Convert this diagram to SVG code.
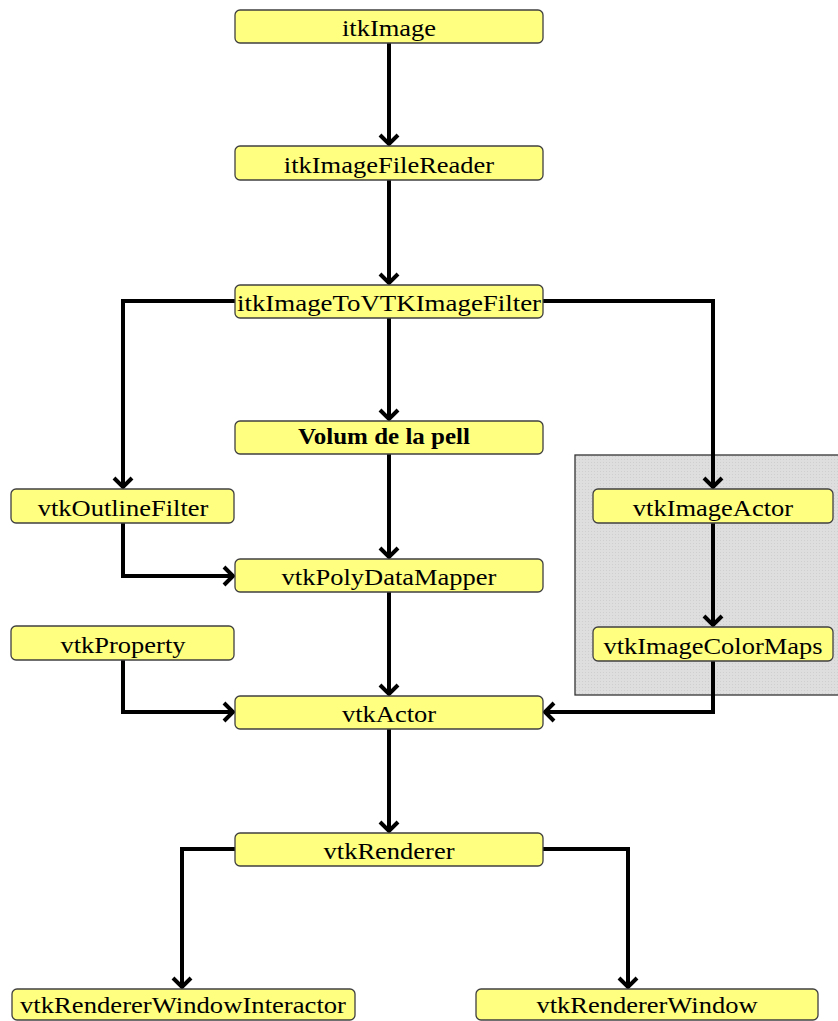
<svg xmlns="http://www.w3.org/2000/svg" width="838" height="1021" viewBox="0 0 838 1021">
  <defs>
    <style>
      .box { fill: #ffff80; stroke: #404040; stroke-width: 1.3; }
      .lbl { font-family: "Liberation Serif", "Times New Roman", serif; font-size: 26.5px; fill: #000; text-anchor: middle; }
      .bold { font-weight: bold; font-size: 23px; }
      .wire { fill: none; stroke: #000; stroke-width: 4; stroke-linejoin: miter; }
      .group { stroke: #333; stroke-width: 1.3; }
    </style>
    <pattern id="dots" width="3" height="3" patternUnits="userSpaceOnUse">
      <rect width="3" height="3" fill="#dedede"/>
      <rect width="1" height="1" fill="#cfcfcf"/>
    </pattern>
    <marker id="arrow" viewBox="-14 -12 18 24" markerWidth="18" markerHeight="24" refX="0" refY="0" orient="auto" markerUnits="userSpaceOnUse">
      <path d="M -10 -9 L -1 0 L -10 9" fill="none" stroke="#000" stroke-width="4"/>
    </marker>
  </defs>

  <rect width="838" height="1021" fill="#fff"/>

  <!-- shaded grouping behind the image actor branch -->
  <rect class="group" x="575" y="455" width="270" height="240" fill="url(#dots)"/>

  <g id="connectors">
    <path class="wire" d="M389 43 V145" marker-end="url(#arrow)"/>
    <path class="wire" d="M389 180 V284" marker-end="url(#arrow)"/>
    <path class="wire" d="M389 318 V420" marker-end="url(#arrow)"/>
    <path class="wire" d="M235 301 H123 V488" marker-end="url(#arrow)"/>
    <path class="wire" d="M543 301 H713 V488" marker-end="url(#arrow)"/>
    <path class="wire" d="M389 454 V558" marker-end="url(#arrow)"/>
    <path class="wire" d="M123 523 V576 H234" marker-end="url(#arrow)"/>
    <path class="wire" d="M713 523 V626" marker-end="url(#arrow)"/>
    <path class="wire" d="M389 592 V695" marker-end="url(#arrow)"/>
    <path class="wire" d="M123 660 V712 H234" marker-end="url(#arrow)"/>
    <path class="wire" d="M713 661 V712 H544" marker-end="url(#arrow)"/>
    <path class="wire" d="M389 729 V832" marker-end="url(#arrow)"/>
    <path class="wire" d="M235 849 H182 V988" marker-end="url(#arrow)"/>
    <path class="wire" d="M543 849 H628 V988" marker-end="url(#arrow)"/>
  </g>

  <g id="itkImage">
    <rect class="box" x="235" y="10" width="308" height="33" rx="5"/>
    <text class="lbl" transform="translate(389,36) scale(1,0.86)">itkImage</text>
  </g>
  <g id="itkImageFileReader">
    <rect class="box" x="235" y="146" width="308" height="34" rx="5"/>
    <text class="lbl" transform="translate(389,173) scale(1,0.86)">itkImageFileReader</text>
  </g>
  <g id="itkImageToVTKImageFilter">
    <rect class="box" x="235" y="285" width="308" height="33" rx="5"/>
    <text class="lbl" transform="translate(389,311) scale(1,0.86)" textLength="304" lengthAdjust="spacingAndGlyphs">itkImageToVTKImageFilter</text>
  </g>
  <g id="volumDeLaPell">
    <rect class="box" x="235" y="421" width="308" height="33" rx="5"/>
    <text class="lbl bold" x="384" y="444" textLength="172" lengthAdjust="spacingAndGlyphs">Volum de la pell</text>
  </g>
  <g id="vtkOutlineFilter">
    <rect class="box" x="11" y="489" width="223" height="34" rx="5"/>
    <text class="lbl" transform="translate(123,516) scale(1,0.86)">vtkOutlineFilter</text>
  </g>
  <g id="vtkPolyDataMapper">
    <rect class="box" x="235" y="559" width="308" height="33" rx="5"/>
    <text class="lbl" transform="translate(389,585) scale(1,0.86)">vtkPolyDataMapper</text>
  </g>
  <g id="vtkProperty">
    <rect class="box" x="11" y="626" width="223" height="34" rx="5"/>
    <text class="lbl" transform="translate(123,653) scale(1,0.86)">vtkProperty</text>
  </g>
  <g id="vtkActor">
    <rect class="box" x="235" y="696" width="308" height="33" rx="5"/>
    <text class="lbl" transform="translate(389,722) scale(1,0.86)">vtkActor</text>
  </g>
  <g id="vtkImageActor">
    <rect class="box" x="593" y="489" width="240" height="34" rx="5"/>
    <text class="lbl" transform="translate(713,516) scale(1,0.86)">vtkImageActor</text>
  </g>
  <g id="vtkImageColorMaps">
    <rect class="box" x="593" y="627" width="240" height="34" rx="5"/>
    <text class="lbl" transform="translate(713,654) scale(1,0.86)">vtkImageColorMaps</text>
  </g>
  <g id="vtkRenderer">
    <rect class="box" x="235" y="833" width="308" height="33" rx="5"/>
    <text class="lbl" transform="translate(389,859) scale(1,0.86)">vtkRenderer</text>
  </g>
  <g id="vtkRendererWindowInteractor">
    <rect class="box" x="12" y="989" width="343" height="31" rx="5"/>
    <text class="lbl" transform="translate(183,1013) scale(1,0.86)" textLength="326" lengthAdjust="spacingAndGlyphs">vtkRendererWindowInteractor</text>
  </g>
  <g id="vtkRendererWindow">
    <rect class="box" x="476" y="989" width="342" height="31" rx="5"/>
    <text class="lbl" transform="translate(647,1013) scale(1,0.86)">vtkRendererWindow</text>
  </g>
</svg>
